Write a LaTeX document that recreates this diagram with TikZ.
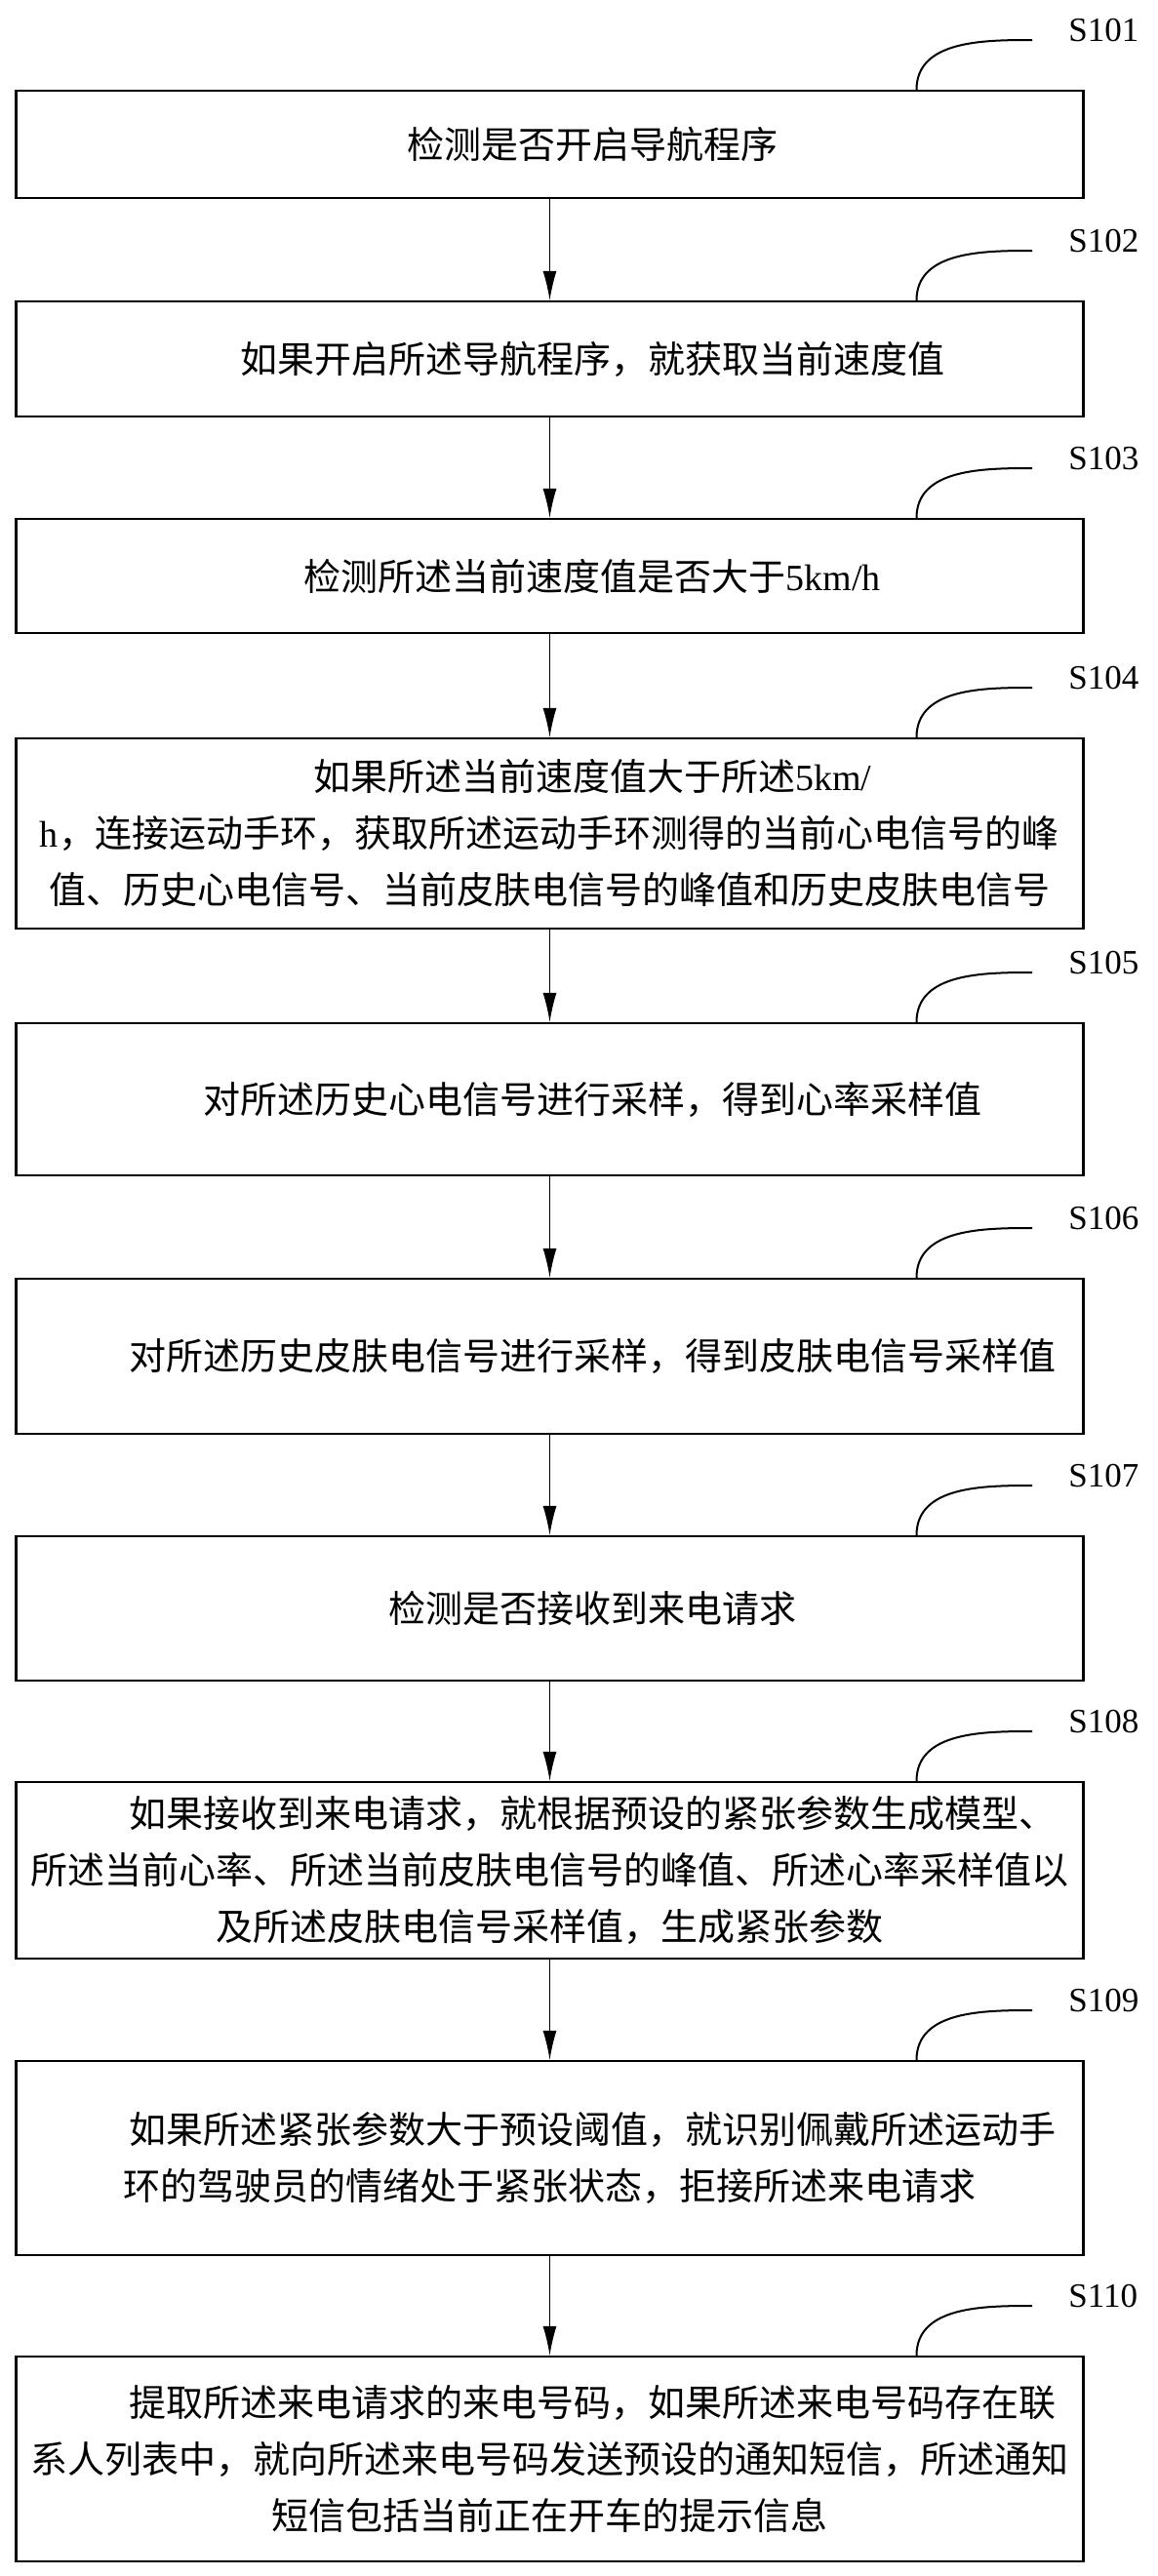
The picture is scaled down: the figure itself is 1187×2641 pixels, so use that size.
\documentclass[tikz,border=0pt]{standalone}
\usepackage{fontspec}
\setmainfont{Liberation Serif}
\newfontfamily\cjk{Noto Sans CJK SC}
\usetikzlibrary{arrows.meta}
\newcommand{\ind}{\hspace*{2.3em}}

\begin{document}
\begin{tikzpicture}[x=0.5pt,y=-0.5pt,
	box/.style={rectangle,draw,line width=1.1pt,minimum width=547pt,text width=540pt,
		align=center,inner sep=0pt,font=\fontsize{19}{29}\selectfont\cjk},
	slabel/.style={anchor=west,inner sep=0pt,font=\fontsize{17.5}{20}\selectfont},
	lead/.style={line width=1pt},
	flow/.style={-{Latex[length=15pt,width=7pt]},line width=0.7pt}]
	\useasboundingbox (0,0) rectangle (1187,2641);
	% steps
	\node (b1) at (563.5,148) [box,minimum height=55pt] {\ind 检测是否开启导航程序};
	\node (b2) at (563.5,368) [box,minimum height=59pt] {\ind 如果开启所述导航程序，就获取当前速度值};
	\node (b3) at (563.5,590.5) [box,minimum height=58.5pt] {\ind 检测所述当前速度值是否大于{\rmfamily 5km/h}};
	\node (b4) at (563.5,854.5) [box,minimum height=97.5pt] {\ind 如果所述当前速度值大于所述{\rmfamily 5km/}\\{\rmfamily h}，连接运动手环，获取所述运动手环测得的当前心电信号的峰\\值、历史心电信号、当前皮肤电信号的峰值和历史皮肤电信号};
	\node (b5) at (563.5,1127) [box,minimum height=78pt] {\ind 对所述历史心电信号进行采样，得到心率采样值};
	\node (b6) at (563.5,1390.5) [box,minimum height=79.5pt] {\ind 对所述历史皮肤电信号进行采样，得到皮肤电信号采样值};
	\node (b7) at (563.5,1649) [box,minimum height=74pt] {\ind 检测是否接收到来电请求};
	\node (b8) at (563.5,1917.5) [box,minimum height=90.5pt] {\ind 如果接收到来电请求，就根据预设的紧张参数生成模型、\\所述当前心率、所述当前皮肤电信号的峰值、所述心率采样值以\\及所述皮肤电信号采样值，生成紧张参数};
	\node (b9) at (563.5,2212.5) [box,minimum height=99.5pt] {\ind 如果所述紧张参数大于预设阈值，就识别佩戴所述运动手\\环的驾驶员的情绪处于紧张状态，拒接所述来电请求};
	\node (b10) at (563.5,2521) [box,minimum height=105pt] {\ind 提取所述来电请求的来电号码，如果所述来电号码存在联\\系人列表中，就向所述来电号码发送预设的通知短信，所述通知\\短信包括当前正在开车的提示信息};
	% step labels
	\node (s1) at (1095,31) [slabel] {S101};
	\node (s2) at (1095,247) [slabel] {S102};
	\node (s3) at (1095,470) [slabel] {S103};
	\node (s4) at (1095,695) [slabel] {S104};
	\node (s5) at (1095,987) [slabel] {S105};
	\node (s6) at (1095,1249) [slabel] {S106};
	\node (s7) at (1095,1513) [slabel] {S107};
	\node (s8) at (1095,1765) [slabel] {S108};
	\node (s9) at (1095,2051) [slabel] {S109};
	\node (s10) at (1095,2354) [slabel] {S110};
	\draw [lead] ([xshift=188pt]b1.north) to[out=90,in=180] ([xshift=-18.5pt,yshift=-5pt]s1.west);
	\draw [lead] ([xshift=188pt]b2.north) to[out=90,in=180] ([xshift=-18.5pt,yshift=-5pt]s2.west);
	\draw [lead] ([xshift=188pt]b3.north) to[out=90,in=180] ([xshift=-18.5pt,yshift=-5pt]s3.west);
	\draw [lead] ([xshift=188pt]b4.north) to[out=90,in=180] ([xshift=-18.5pt,yshift=-5pt]s4.west);
	\draw [lead] ([xshift=188pt]b5.north) to[out=90,in=180] ([xshift=-18.5pt,yshift=-5pt]s5.west);
	\draw [lead] ([xshift=188pt]b6.north) to[out=90,in=180] ([xshift=-18.5pt,yshift=-5pt]s6.west);
	\draw [lead] ([xshift=188pt]b7.north) to[out=90,in=180] ([xshift=-18.5pt,yshift=-5pt]s7.west);
	\draw [lead] ([xshift=188pt]b8.north) to[out=90,in=180] ([xshift=-18.5pt,yshift=-5pt]s8.west);
	\draw [lead] ([xshift=188pt]b9.north) to[out=90,in=180] ([xshift=-18.5pt,yshift=-5pt]s9.west);
	\draw [lead] ([xshift=188pt]b10.north) to[out=90,in=180] ([xshift=-18.5pt,yshift=-5pt]s10.west);
	% flow
	\draw [flow] (b1) -- (b2);
	\draw [flow] (b2) -- (b3);
	\draw [flow] (b3) -- (b4);
	\draw [flow] (b4) -- (b5);
	\draw [flow] (b5) -- (b6);
	\draw [flow] (b6) -- (b7);
	\draw [flow] (b7) -- (b8);
	\draw [flow] (b8) -- (b9);
	\draw [flow] (b9) -- (b10);
\end{tikzpicture}
\end{document}
